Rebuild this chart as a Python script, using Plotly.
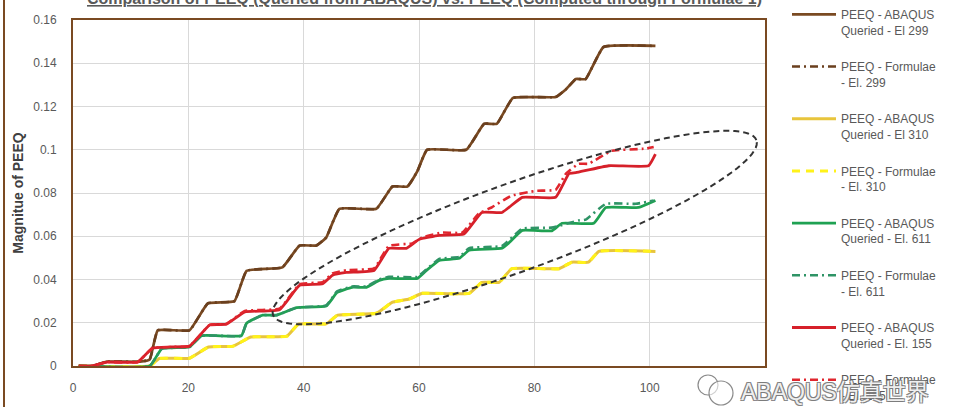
import math
import plotly.graph_objects as go

# ---------------- data ----------------
x299 = [1, 3.3, 5.9, 11.6, 13.3, 14.7, 20.2, 23.4, 28, 30.1, 36.3, 39.3, 42.2, 43.9, 46.2, 52.6, 55.4, 58, 59.7, 61.4, 68.2, 71.3, 73.5, 76.3, 83.7, 85.5, 87.2, 88.9, 92, 101]
y299 = [0, 0, 0.002, 0.002, 0.003, 0.0165, 0.0165, 0.029, 0.030, 0.044, 0.0456, 0.0557, 0.0557, 0.0594, 0.0727, 0.0727, 0.083, 0.083, 0.090, 0.100, 0.100, 0.112, 0.112, 0.124, 0.1244, 0.128, 0.1327, 0.1327, 0.1475, 0.148]
x299f = [1, 3.3, 5.9, 11.6, 13.3, 14.7, 20.2, 23.4, 28, 30.1, 36.3, 39.3, 42.2, 43.9, 46.2, 52.6, 55.4, 58, 59.7, 61.4, 68.2, 71.3, 73.5, 76.3, 83.7, 85.5, 87.2, 88.9, 92, 101]
y299f = [0, 0, 0.002, 0.002, 0.003, 0.0165, 0.0165, 0.029, 0.030, 0.044, 0.0456, 0.0557, 0.0557, 0.0594, 0.0727, 0.0727, 0.083, 0.083, 0.090, 0.100, 0.100, 0.112, 0.112, 0.124, 0.1244, 0.128, 0.1327, 0.1327, 0.1475, 0.148]

x310 = [1, 13.3, 15, 20.2, 23.5, 27.8, 30.8, 37.1, 39.1, 43.9, 45.9, 52.6, 55.4, 58.3, 60.6, 68.7, 70.9, 73.9, 76.1, 84.3, 86.5, 89.4, 91.2, 101]
y310 = [0, 0, 0.0035, 0.0036, 0.0088, 0.0092, 0.0134, 0.0138, 0.0194, 0.0195, 0.0235, 0.0244, 0.0295, 0.031, 0.0336, 0.0336, 0.0387, 0.0387, 0.045, 0.045, 0.048, 0.048, 0.053, 0.053]
x310f = [1, 13.3, 15, 20.2, 23.5, 27.8, 30.8, 37.1, 39.1, 43.9, 45.9, 52.6, 55.4, 58.3, 60.6, 68.7, 70.9, 73.9, 76.1, 84.3, 86.5, 89.4, 91.2, 101]
y310f = [0, 0, 0.0035, 0.0036, 0.0088, 0.0092, 0.0134, 0.0138, 0.0194, 0.0195, 0.0235, 0.0244, 0.0295, 0.031, 0.0336, 0.0336, 0.0387, 0.0387, 0.045, 0.045, 0.048, 0.048, 0.053, 0.053]

x611 = [1, 13.3, 15.4, 20.2, 22.3, 29.2, 30.1, 32.9, 35.3, 38.8, 43.9, 45.8, 48.4, 50.9, 53.1, 54.8, 59.7, 61.2, 63.5, 67, 68.7, 74.4, 75.6, 77.9, 83, 84.8, 90.3, 92.4, 98.1, 101]
y611 = [0, 0, 0.008, 0.0088, 0.014, 0.014, 0.0198, 0.0235, 0.0235, 0.027, 0.0277, 0.034, 0.0364, 0.0364, 0.0396, 0.0405, 0.0405, 0.044, 0.0488, 0.0498, 0.0535, 0.0545, 0.057, 0.0627, 0.0625, 0.066, 0.066, 0.0733, 0.0733, 0.0765]
x611f = [1, 13.3, 15.4, 20.2, 22.3, 29.2, 30.1, 32.9, 35.3, 38.8, 43.9, 45.8, 48.4, 50.9, 53.1, 54.8, 59.7, 61.2, 63.5, 67, 68.7, 74.4, 77.9, 83, 87.7, 88.9, 92.4, 97.6, 100.7]
y611f = [0, 0, 0.008, 0.0088, 0.014, 0.014, 0.0198, 0.0235, 0.0235, 0.027, 0.028, 0.0345, 0.0368, 0.0368, 0.04, 0.0412, 0.0412, 0.0445, 0.0495, 0.0505, 0.0545, 0.0555, 0.0635, 0.064, 0.0673, 0.0677, 0.075, 0.075, 0.0765]

x155 = [1, 3.3, 5.9, 11.2, 13.8, 16.8, 20.2, 23.7, 26.6, 29.8, 35.8, 39.3, 43.3, 45, 47.4, 52.2, 54.8, 57.8, 60, 63.5, 67.8, 70.9, 74.4, 77.9, 83.7, 86, 87.2, 92.9, 99.8, 101]
y155 = [0, 0, 0.0018, 0.0018, 0.0083, 0.0088, 0.0092, 0.019, 0.0193, 0.025, 0.026, 0.0373, 0.038, 0.042, 0.0433, 0.0442, 0.0544, 0.0544, 0.0585, 0.0604, 0.061, 0.071, 0.071, 0.078, 0.078, 0.089, 0.0894, 0.0926, 0.0926, 0.098]
x155f = [1, 3.3, 5.9, 11.2, 13.8, 16.8, 20.2, 23.7, 26.6, 29.8, 35.8, 39.3, 43.3, 45, 47.4, 52.2, 54.8, 58.8, 60.6, 64, 67.5, 70.4, 72.7, 76.1, 80.3, 83.7, 85.5, 87.7, 89.4, 93.4, 99.3, 100.7]
y155f = [0, 0, 0.0018, 0.0018, 0.0083, 0.0088, 0.0092, 0.019, 0.0195, 0.0255, 0.0265, 0.0378, 0.0388, 0.0428, 0.0443, 0.0452, 0.0556, 0.0567, 0.0595, 0.0617, 0.0617, 0.0705, 0.0735, 0.0788, 0.081, 0.0815, 0.089, 0.0935, 0.0935, 0.0995, 0.1005, 0.1013]

legend_names = [
    "PEEQ - ABAQUS<br>Queried - El 299",
    "PEEQ - Formulae<br>- El. 299",
    "PEEQ - ABAQUS<br>Queried - El 310",
    "PEEQ - Formulae<br>- El. 310",
    "PEEQ - ABAQUS<br>Queried - El. 611",
    "PEEQ - Formulae<br>- El. 611",
    "PEEQ - ABAQUS<br>Queried - El. 155",
    "PEEQ - Formulae<br>- El. 155",
]
x_ticks = [0, 20, 40, 60, 80, 100]
y_ticks = [0, 0.02, 0.04, 0.06, 0.08, 0.1, 0.12, 0.14, 0.16]
y_tick_text = ["0", "0.02", "0.04", "0.06", "0.08", "0.1", "0.12", "0.14", "0.16"]

title_text = "Comparison of PEEQ (Queried from ABAQUS) vs. PEEQ (Computed through Formulae 1)"
y_title = "Magnitue of PEEQ"
watermark = "ABAQUS仿真世界"

# ---------------- layout constants ----------------
W, H = 956, 407
L, R, T, B = 73, 191, 20, 41
PW, PH = W - L - R, H - T - B
XMAX, YMAX = 120, 0.16


def px2paper(px, py):
    return (px - L) / PW, (H - B - py) / PH


series = [
    (x299, y299, "#7A4A22", "solid", 2.7),
    (x299f, y299f, "#6A3F1E", "8px,4px,2px,4px", 2.6),
    (x310, y310, "#E8C53C", "solid", 3),
    (x310f, y310f, "#FFF21A", "8px,6px", 3),
    (x611, y611, "#1FA152", "solid", 2.8),
    (x611f, y611f, "#2F9466", "8px,4px,2px,4px", 2.6),
    (x155, y155, "#D6202A", "solid", 2.8),
    (x155f, y155f, "#E0262E", "8px,4px,2px,4px", 2.6),
]

fig = go.Figure()
for i, (xs, ys, col, dash, w) in enumerate(series):
    fig.add_trace(go.Scatter(
        x=xs, y=ys, mode="lines", name=legend_names[i],
        legendgroup=f"g{i}",
        line=dict(color=col, width=w, dash=dash, shape="spline", smoothing=0.35),
        hoverinfo="skip",
    ))

# dashed ellipse (drawn in screen space, mapped back to data coordinates)
sx_per_unit = PW / XMAX
sy_per_unit = PH / YMAX
ecx, ecy = 76.6, 0.064        # centre in data units
ea, eb, eang = 257, 44, math.radians(19.9)  # semi-axes (px) and tilt
pts = []
for k in range(0, 121):
    t = 2 * math.pi * k / 120
    dx = ea * math.cos(t) * math.cos(eang) - eb * math.sin(t) * math.sin(eang)
    dy = ea * math.cos(t) * math.sin(eang) + eb * math.sin(t) * math.cos(eang)
    pts.append((ecx + dx / sx_per_unit, ecy + dy / sy_per_unit))
path = "M " + " L ".join(f"{x:.4f},{y:.6f}" for x, y in pts) + " Z"

shapes = [
    dict(type="path", xref="x", yref="y", path=path,
         line=dict(color="#333333", width=2, dash="6px,4px"), layer="above"),
]
# outer chart-area border (left edge visible)
x0p, _ = px2paper(4, 0)
shapes.append(dict(type="line", xref="paper", yref="paper",
                   x0=x0p, x1=x0p, y0=px2paper(0, H)[1], y1=px2paper(0, 0)[1],
                   line=dict(color="#7A4A22", width=2)))
# watermark icon (two speech bubbles)
for (cx, cy, r) in [(708, 385, 10), (721, 393, 12)]:
    a0, b0 = px2paper(cx - r, cy + r)
    a1, b1 = px2paper(cx + r, cy - r)
    shapes.append(dict(type="circle", xref="paper", yref="paper",
                       x0=a0, y0=b0, x1=a1, y1=b1,
                       line=dict(color="#8a8a8a", width=1.2),
                       fillcolor="rgba(255,255,255,0.6)"))

tx, ty = px2paper(424, -2)
wx, wy = px2paper(835, 392)
annotations = [
    dict(text=f"<b><u>{title_text}</u></b>", xref="paper", yref="paper",
         x=tx, y=ty, xanchor="center", yanchor="middle", showarrow=False,
         font=dict(family="Liberation Sans, Arial, sans-serif", size=16, color="#595959")),
    dict(text=watermark, xref="paper", yref="paper", x=wx, y=wy,
         xanchor="center", yanchor="middle", showarrow=False,
         font=dict(family="Liberation Sans, Noto Sans CJK SC, sans-serif", size=23,
                   color="rgba(255,255,255,0.9)",
                   shadow="1px 1px 0 #7a7a7a, -1px -1px 0 #7a7a7a, 1px -1px 0 #7a7a7a, -1px 1px 0 #7a7a7a")),
]

lx, ly = px2paper(787, 0)

fig.update_layout(
    width=W, height=H,
    margin=dict(l=L, r=R, t=T, b=B, autoexpand=False),
    paper_bgcolor="white", plot_bgcolor="white",
    font=dict(family="Liberation Sans, Arial, sans-serif", color="#595959"),
    showlegend=True,
    legend=dict(x=lx, y=ly, xanchor="left", yanchor="top",
                font=dict(size=12, color="#595959"),
                bgcolor="rgba(0,0,0,0)", valign="top",
                tracegroupgap=18, itemwidth=44, maxheight=600),
    shapes=shapes,
    annotations=annotations,
    xaxis=dict(range=[0, XMAX], tickvals=x_ticks, showgrid=True,
               gridcolor="#D9D9D9", gridwidth=1, zeroline=False,
               showline=True, mirror=True, linecolor="#7A4A22", linewidth=2,
               ticks="outside", ticklen=10, tickcolor="rgba(0,0,0,0)",
               tickfont=dict(size=12, color="#595959")),
    yaxis=dict(range=[0, YMAX], tickvals=y_ticks, ticktext=y_tick_text,
               showgrid=True, gridcolor="#D9D9D9", gridwidth=1, zeroline=False,
               showline=True, mirror=True, linecolor="#7A4A22", linewidth=2,
               ticks="outside", ticklen=12, tickcolor="rgba(0,0,0,0)",
               tickfont=dict(size=12, color="#595959"),
               title=dict(text=f"<b>{y_title}</b>", standoff=6,
                          font=dict(size=14, color="#404040"))),
)

fig.write_html("out.html", config={"displayModeBar": False},
               post_script="document.body.style.margin='0px';document.body.style.overflow='hidden';")
